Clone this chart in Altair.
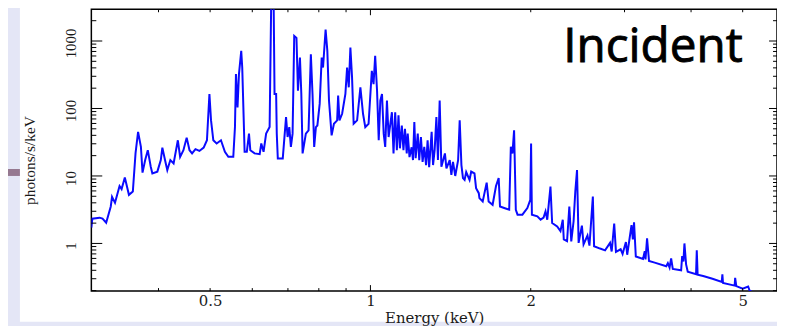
import altair as alt
import pandas as pd

# ---- data ----
energy = [
    0.2992, 0.3005, 0.310, 0.314, 0.319, 0.3254, 0.3272, 0.3314, 0.338, 0.341,
    0.3458, 0.352, 0.358, 0.3622, 0.3662, 0.3707, 0.3733, 0.3776, 0.3819, 0.3868,
    0.3895, 0.398, 0.404, 0.4067, 0.4114, 0.4155, 0.421, 0.427, 0.4349, 0.4392,
    0.4455, 0.4518, 0.4574, 0.4625, 0.4693, 0.4774, 0.4863, 0.4932, 0.4985, 0.502,
    0.507, 0.5143, 0.524, 0.533, 0.541, 0.5487, 0.5527, 0.5567, 0.5591, 0.5629,
    0.5664, 0.572, 0.5745, 0.578, 0.5804, 0.586, 0.5915, 0.5949, 0.606, 0.6195,
    0.6238, 0.630, 0.637, 0.6467, 0.6512, 0.658, 0.6606, 0.6652, 0.667, 0.670,
    0.6845, 0.6943, 0.699, 0.7041, 0.709, 0.7142, 0.7193, 0.7263, 0.731, 0.7373,
    0.7417, 0.7458, 0.7564, 0.7653, 0.7729, 0.7785, 0.7841, 0.790, 0.795, 0.803,
    0.810, 0.8147, 0.8238, 0.830, 0.836, 0.8455, 0.854, 0.866, 0.8697, 0.8747,
    0.8848, 0.8974, 0.904, 0.9106, 0.917, 0.9236, 0.930, 0.944, 0.9575, 0.9685,
    0.978, 0.992, 1.006, 1.0136, 1.0207, 1.029, 1.0365, 1.0437, 1.0513, 1.059,
    1.066, 1.074, 1.0818, 1.0973, 1.105, 1.113, 1.121, 1.129, 1.136, 1.1453,
    1.1535, 1.161, 1.170, 1.175, 1.184, 1.195, 1.202, 1.209, 1.216, 1.227,
    1.235, 1.244, 1.253, 1.262, 1.272, 1.2805, 1.289, 1.303, 1.311, 1.320,
    1.330, 1.339, 1.349, 1.359, 1.380, 1.389, 1.409, 1.419, 1.429, 1.443,
    1.461, 1.471, 1.482, 1.492, 1.5025, 1.513, 1.535, 1.546, 1.568, 1.579,
    1.5975, 1.602, 1.625, 1.653, 1.667, 1.696, 1.721, 1.741, 1.751, 1.783,
    1.822, 1.835, 1.848, 1.861, 1.875, 1.889, 1.929, 1.971, 1.996, 2.003,
    2.010, 2.058, 2.087, 2.114, 2.132, 2.148, 2.178, 2.194, 2.242, 2.274,
    2.297, 2.307, 2.34, 2.363, 2.383, 2.407, 2.425, 2.443, 2.46, 2.495,
    2.513, 2.556, 2.578, 2.616, 2.630, 2.699, 2.758, 2.818, 2.838, 2.869,
    2.891, 2.950, 2.975, 3.018, 3.035, 3.092, 3.11, 3.126, 3.15, 3.25,
    3.274, 3.285, 3.307, 3.335, 3.418, 3.593, 3.618, 3.645, 3.67, 3.696,
    3.832, 3.849, 3.87, 3.887, 3.915, 3.943, 4.087, 4.1, 4.115, 4.215,
    4.388, 4.568, 4.58, 4.592, 4.83, 4.84, 4.864, 5.0, 5.12, 5.152,
    5.25,
]
flux = [
    1.72, 2.33, 2.41, 2.33, 2.03, 3.53, 4.9, 4.0, 7.1, 6.4,
    9.5, 5.25, 5.9, 21.8, 45, 27, 11.2, 17.2, 24.1, 13.7,
    10.9, 11.6, 17.2, 26.3, 17.2, 12.2, 17.2, 15.3, 33.8, 19.2,
    24.1, 37, 24.1, 21.6, 25, 23.5, 26.3, 33.8, 164, 66.6,
    33.8, 30.3, 33.8, 22.8, 19.2, 19.2, 19.2, 53, 323, 104,
    323, 713, 405, 74.5, 22.8, 22.8, 42.4, 24.1, 21.6, 21,
    30.3, 22.8, 42.4, 53, 4000, 4000, 164, 164, 42.4, 18.2,
    18.2, 74.5, 37.8, 53, 27, 42.4, 1190, 1110, 184, 567,
    164, 21.6, 42.4, 47.5, 634, 164, 27, 53, 56, 117,
    567, 405, 1480, 713, 131, 40, 59.4, 66.6, 155, 66.6,
    83.5, 164, 405, 206, 801, 289, 59.4, 66.6, 206, 83.5,
    53, 59.4, 362, 230, 602, 184, 33.8, 131, 164, 42.4,
    27, 131, 37.8, 88, 21.6, 88, 24.1, 79, 25.7, 56,
    24.1, 50, 21.6, 42.4, 19, 26.6, 17.2, 63, 18.4, 42.4,
    17.2, 37.8, 16.1, 27, 14.5, 33.8, 13.5, 45, 14.5, 24.1,
    74.5, 17.2, 131, 13.7, 21.6, 13, 17.2, 10.4, 16.2, 10,
    17.2, 66.6, 14.5, 9.3, 8.73, 11.4, 8.73, 11.6, 10.9, 6.6,
    5.56, 4.7, 4.19, 7.96, 4.19, 3.74, 7.1, 9.3, 3.53, 3.35,
    3.16, 27, 21.6, 47.5, 3.16, 2.67, 2.67, 3.35, 4.44, 30.3,
    2.67, 2.52, 2.25, 2.41, 2.99, 2.25, 6.96, 2.01, 1.78, 1.52,
    2.25, 1.15, 1.08, 3.53, 1.07, 2.13, 5.9, 12.2, 1.02, 1.84,
    0.97, 1.31, 0.93, 4.96, 0.91, 0.84, 0.79, 1.02, 0.76, 1.97,
    0.75, 0.82, 0.70, 1.05, 0.68, 1.87, 1.15, 2.06, 0.64, 0.59,
    0.77, 0.58, 1.19, 0.55, 0.52, 0.46, 0.51, 0.44, 0.60, 0.42,
    0.40, 0.65, 0.54, 1.0, 0.49, 0.38, 0.35, 0.79, 0.345, 0.33,
    0.30, 0.27, 0.35, 0.26, 0.237, 0.31, 0.233, 0.214, 0.23, 0.2,
    0.185,
]

x_label_values = [0.5, 1, 2, 5]
x_major_ticks = [1]
x_minor_ticks = [0.4, 0.5, 0.6, 0.7, 0.8, 0.9, 2, 3, 4, 5]
y_label_values = [1, 10, 100, 1000]
y_major_ticks = [1, 10, 100, 1000]
y_minor_ticks = [0.2, 0.3, 0.4, 0.5, 0.6, 0.7, 0.8, 0.9,
                 2, 3, 4, 5, 6, 7, 8, 9,
                 20, 30, 40, 50, 60, 70, 80, 90,
                 200, 300, 400, 500, 600, 700, 800, 900, 2000]
x_domain = [0.2992, 5.80]
y_domain = [0.197, 2955]
annotation = ["Incident"]

W, H = 691, 284

xs = alt.Scale(type="log", domain=x_domain, nice=False)
ys = alt.Scale(type="log", domain=y_domain, nice=False)

x_axis = alt.Axis(
    values=x_label_values, format="~g", title="Energy (keV)",
    domain=False, ticks=False, tickSize=0, grid=False, zindex=1,
    labelFont="DejaVu Serif", labelFontSize=15, labelColor="#1a1a1a",
    labelPadding=3, labelFlush=False, labelOverlap=False,
    titleFont="DejaVu Serif", titleFontSize=15, titleFontWeight="normal",
    titleColor="#1a1a1a", titleY=20, titleBaseline="top")
y_axis = alt.Axis(
    values=y_label_values, format="d", title="photons/s/keV",
    domain=False, ticks=False, tickSize=0, grid=False, zindex=1,
    labelFont="Liberation Serif", labelFontSize=15, labelColor="#1a1a1a",
    labelAngle=270, labelAlign="center", labelBaseline="alphabetic",
    labelPadding=16, labelOffset=2, labelFlush=False, labelOverlap=False,
    titleFont="Liberation Serif", titleFontSize=15.5, titleFontWeight="normal",
    titleColor="#1a1a1a", titleAngle=270, titleX=-62, titleY=152,
    titleAlign="center", titleBaseline="middle")

spec = pd.DataFrame({"E": energy, "F": flux})
dummy = pd.DataFrame({"d": [0]})

# slide background decoration
left_strip = alt.Chart(dummy).mark_rect(color="#e4e6f6").encode(
    x=alt.value(-90), x2=alt.value(-72), y=alt.value(-10), y2=alt.value(330))
bottom_strip = alt.Chart(dummy).mark_rect(color="#e4e6f6").encode(
    x=alt.value(-90), x2=alt.value(W + 10), y=alt.value(315), y2=alt.value(330))
purple_bar = alt.Chart(dummy).mark_rect(color="#957890").encode(
    x=alt.value(-90), x2=alt.value(-72), y=alt.value(161), y2=alt.value(168))

line = alt.Chart(spec).mark_line(color="#0a0aff", strokeWidth=2, clip=True).encode(
    x=alt.X("E:Q", scale=xs, axis=x_axis),
    y=alt.Y("F:Q", scale=ys, axis=y_axis),
)


def xticks(vals, y0, y1):
    return alt.Chart(pd.DataFrame({"E": vals})).mark_rule(color="black", strokeWidth=1).encode(
        x=alt.X("E:Q", scale=xs, axis=x_axis), y=alt.value(y0), y2=alt.value(y1))


def yticks(vals, x0, x1):
    return alt.Chart(pd.DataFrame({"F": vals})).mark_rule(color="black", strokeWidth=1).encode(
        y=alt.Y("F:Q", scale=ys, axis=y_axis), x=alt.value(x0), x2=alt.value(x1))


ticks = [
    xticks(x_minor_ticks, H, H - 3), xticks(x_major_ticks, H, H - 6),
    xticks(x_minor_ticks, 0, 3), xticks(x_major_ticks, 0, 6),
    yticks(y_minor_ticks, 0, 5), yticks(y_major_ticks, 0, 11),
    yticks(y_minor_ticks, W, W - 4), yticks(y_major_ticks, W, W - 8),
]

label = alt.Chart(pd.DataFrame({"t": annotation})).mark_text(
    font="Open Sans", fontSize=48, fontWeight="normal", align="center",
    baseline="alphabetic", color="black", stroke="black", strokeWidth=0.9
).encode(text="t:N", x=alt.value(566), y=alt.value(53))

chart = alt.layer(left_strip, bottom_strip, purple_bar, line, *ticks, label).properties(
    width=W, height=H,
    autosize=alt.AutoSizeParams(type="none"),
    padding={"left": 84, "top": 0, "right": 0, "bottom": 40},
    background="white",
).configure_view(stroke="black", strokeWidth=1.5, fill="white")

chart.save("out.html", embed_options={"renderer": "svg", "actions": False})
